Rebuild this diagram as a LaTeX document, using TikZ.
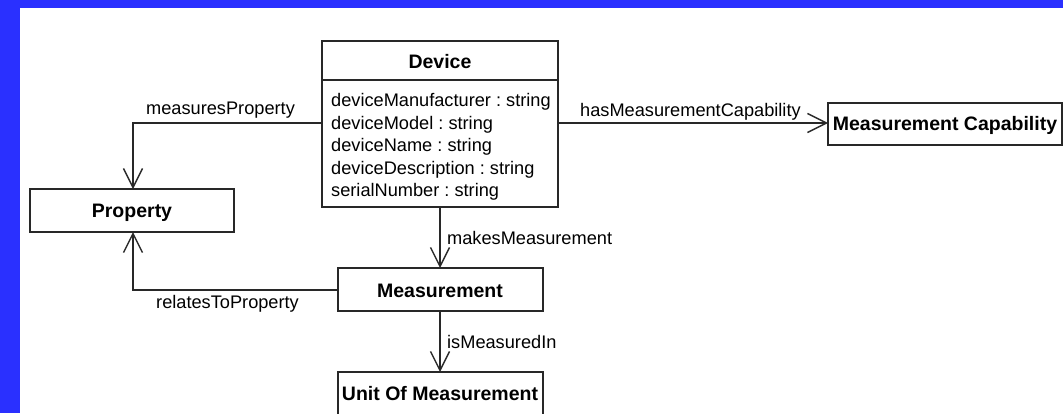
\documentclass[tikz,border=0pt]{standalone}
\usepackage{fontspec}
\setmainfont{Liberation Sans}
\usetikzlibrary{arrows.meta}
\frenchspacing
\definecolor{frameblue}{RGB}{42,48,255}
\definecolor{ink}{RGB}{40,40,40}
\tikzset{
  umlbox/.style={draw=ink, line width=1.5pt},
  conn/.style={draw=ink, line width=1.4pt, -{Straight Barb[length=19pt,width=19pt,line width=1.4pt]}},
  plain/.style={draw=ink, line width=1.4pt},
  cname/.style={font=\fontsize{19.5}{22}\selectfont\bfseries, inner sep=0pt, anchor=base},
  attr/.style={font=\fontsize{18.2}{22.5}\selectfont, inner sep=0pt, anchor=base west},
  rolelbl/.style={font=\fontsize{18.2}{22.5}\selectfont, inner sep=0pt, anchor=base west}
}
\begin{document}
\begin{tikzpicture}[x=1pt,y=-1pt]
\useasboundingbox (0,0) rectangle (1063,413);
\fill[white] (0,0) rectangle (1063,413);
% frame bands
\fill[frameblue] (0,0) rectangle (1063,8);
\fill[frameblue] (0,0) rectangle (20,413);

% class boxes
\draw[umlbox] (322,41) rectangle (558,207);
\draw[umlbox] (322,80) -- (558,80);
\coordinate (devW) at (322,123);
\coordinate (devE) at (558,123);
\coordinate (devS) at (440,207);
\node[cname] (device) at (440,68) {Device};
\node[attr] (a1) at (331,106.5) {deviceManufacturer : string};
\node[attr] (a2) at (331,129) {deviceModel : string};
\node[attr] (a3) at (331,151.5) {deviceName : string};
\node[attr] (a4) at (331,174) {deviceDescription : string};
\node[attr] (a5) at (331,196.5) {serialNumber : string};

\draw[umlbox] (30,189) rectangle (234,232);
\coordinate (propN) at (133,189);
\coordinate (propS) at (133,232);
\node[cname] (property) at (132,217) {Property};

\draw[umlbox] (828,103) rectangle (1062,145);
\coordinate (capW) at (828,123);
\node[cname] (capability) at (945,130) {Measurement Capability};

\draw[umlbox] (338,268) rectangle (543,311);
\coordinate (measN) at (440,268);
\coordinate (measS) at (440,311);
\coordinate (measW) at (338,290);
\node[cname] (measurement) at (440,297) {Measurement};

\draw[umlbox] (338,372) rectangle (543,425);
\coordinate (unitN) at (440,372);
\node[cname] (unit) at (440,400) {Unit Of Measurement};

% associations
\draw[conn] (devW) -| (propN);
\node[rolelbl] (lblMP) at (146,114) {measuresProperty};
\draw[conn] (devE) -- (capW);
\node[rolelbl] (lblMC) at (580,116) {hasMeasurementCapability};
\draw[conn] (devS) -- (measN);
\node[rolelbl] (lblMM) at (447,244) {makesMeasurement};
\draw[conn] (measW) -| (propS);
\node[rolelbl] (lblRP) at (156,308) {relatesToProperty};
\draw[conn] (measS) -- (unitN);
\node[rolelbl] (lblMI) at (447,348) {isMeasuredIn};
\end{tikzpicture}
\end{document}
